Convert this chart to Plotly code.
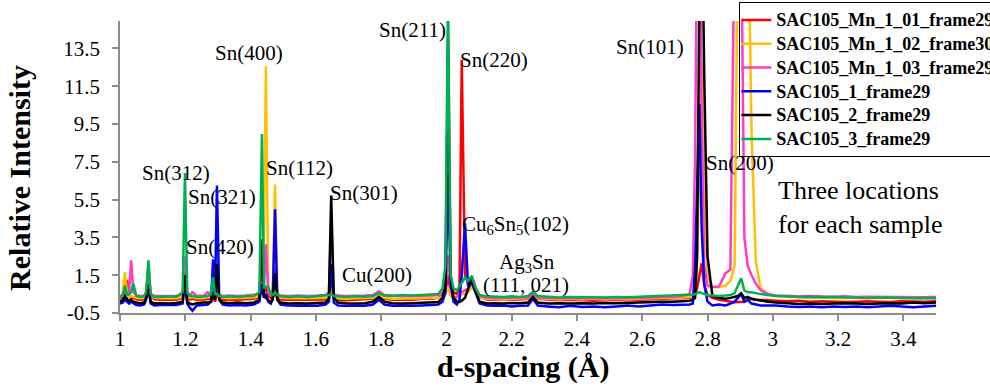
import plotly.graph_objects as go

# d-spacing grid (Å) shared by all scans
D = [1.000, 1.008, 1.015, 1.022, 1.028, 1.034, 1.041, 1.050, 1.062, 1.074, 1.080, 1.087, 1.094, 1.105,
     1.125, 1.150, 1.172, 1.192, 1.199, 1.206, 1.213, 1.222, 1.235, 1.255, 1.269, 1.279, 1.285, 1.291, 1.297, 1.304, 1.315, 1.335, 1.360, 1.385, 1.410, 1.427,
     1.435, 1.441, 1.447, 1.454, 1.462, 1.468, 1.475, 1.482, 1.492, 1.515, 1.545, 1.575, 1.605, 1.630, 1.640, 1.647, 1.655, 1.668, 1.690, 1.720, 1.750, 1.775, 1.793, 1.810, 1.835, 1.865, 1.895, 1.925, 1.955, 1.975, 1.988,
     1.997, 2.005, 2.013, 2.022, 2.032, 2.040, 2.047, 2.057, 2.066, 2.078, 2.090, 2.102, 2.125, 2.150, 2.175, 2.200, 2.225, 2.250, 2.265, 2.280, 2.310, 2.345, 2.380, 2.415, 2.450, 2.485, 2.520, 2.555, 2.590, 2.625, 2.660, 2.695, 2.725, 2.745,
     2.755, 2.762, 2.768, 2.775, 2.782, 2.790, 2.800, 2.815, 2.835, 2.855, 2.870, 2.883, 2.893, 2.903, 2.913, 2.923, 2.935, 2.948, 2.963, 2.985, 3.010, 3.045, 3.080, 3.115, 3.150, 3.185, 3.220, 3.255, 3.290, 3.325, 3.360, 3.395, 3.430, 3.465, 3.500]

MN_01 = [0.25, 0.3, 0.6, 1.25, 0.35, 0.3, 0.3, 0.22, 0.2, 0.22, 0.5, 2.0, 0.4, 0.22,
         0.2, 0.22, 0.2, 0.3, 1.8, 0.35, 0.22, 0.25, 0.2, 0.22, 0.25, 0.25, 0.4, 0.1, 0.5, 0.3, 0.2, 0.22, 0.2, 0.22, 0.25, 0.35,
         1.0, 0.6, 0.8, 0.4, 0.3, 0.3, 0.6, 0.3, 0.22, 0.2, 0.22, 0.2, 0.2, 0.22, 0.3, 1.0, 0.3, 0.2, 0.18, 0.2, 0.2, 0.25, 0.5, 0.25, 0.2, 0.22, 0.2, 0.25, 0.25, 0.3, 0.4,
         0.6, 1.5, 0.6, 0.6, 0.5, 0.8, 12.88, 1.5, 1.1, 1.45, 0.8, 0.35, 0.22, 0.2, 0.2, 0.2, 0.22, 0.25, 0.45, 0.25, 0.2, 0.18, 0.2, 0.18, 0.15, 0.18, 0.2, 0.18, 0.2, 0.22, 0.25, 0.25, 0.28, 0.3,
         0.35, 0.5, 0.8, 1.5, 2.13, 1.0, 0.45, 0.3, 0.2, 0.15, 0.1, 0.07, 0.08, 0.1, 0.1, 0.2, 0.25, 0.2, 0.2, 0.18, 0.15, 0.12, 0.15, 0.1, 0.12, 0.1, 0.08, 0.1, 0.12, 0.1, 0.08, 0.12, 0.1, 0.1, 0.12]

MN_02 = [0.3, 0.5, 1.67, 0.5, 0.35, 0.4, 0.35, 0.3, 0.28, 0.3, 0.5, 1.3, 0.4, 0.3,
         0.28, 0.3, 0.28, 0.35, 2.0, 0.4, 0.3, 0.35, 0.28, 0.3, 0.35, 0.35, 0.6, 0.35, 0.6, 0.35, 0.3, 0.28, 0.3, 0.3, 0.32, 0.4,
         1.2, 3.0, 12.56, 0.8, 0.4, 0.8, 6.3, 0.5, 0.3, 0.28, 0.3, 0.28, 0.28, 0.3, 0.3, 0.8, 0.3, 0.28, 0.25, 0.28, 0.28, 0.3, 0.45, 0.3, 0.25, 0.25, 0.28, 0.28, 0.3, 0.3, 0.35,
         0.45, 0.86, 0.4, 0.25, 0.3, 0.4, 0.5, 0.5, 0.6, 0.85, 0.6, 0.35, 0.25, 0.22, 0.22, 0.25, 0.25, 0.28, 0.45, 0.28, 0.25, 0.22, 0.25, 0.22, 0.25, 0.22, 0.25, 0.22, 0.25, 0.28, 0.3, 0.3, 0.32, 0.35,
         0.4, 0.8, 2.0, 8.0, 12.78, 6.0, 1.5, 0.9, 0.86, 0.95, 1.2, 2.0, 20.0, 25.0, 25.0, 22.0, 9.0, 2.2, 0.8, 0.5, 0.4, 0.35, 0.35, 0.3, 0.32, 0.3, 0.3, 0.28, 0.3, 0.28, 0.3, 0.28, 0.28, 0.3, 0.3]

MN_03 = [0.4, 0.45, 0.6, 0.5, 0.6, 2.29, 0.6, 0.42, 0.4, 0.42, 0.6, 1.4, 0.5, 0.4,
         0.4, 0.42, 0.4, 0.5, 2.5, 0.5, 0.45, 0.6, 0.42, 0.4, 0.6, 0.45, 0.7, 0.45, 0.8, 0.45, 0.4, 0.42, 0.4, 0.42, 0.45, 0.5,
         2.0, 0.8, 3.13, 0.6, 0.45, 0.5, 1.87, 0.5, 0.42, 0.4, 0.42, 0.4, 0.42, 0.45, 0.6, 4.5, 0.5, 0.42, 0.4, 0.4, 0.42, 0.45, 0.65, 0.45, 0.4, 0.38, 0.4, 0.4, 0.42, 0.45, 0.55,
         0.7, 2.55, 0.8, 0.3, 0.35, 0.5, 0.6, 0.7, 0.8, 1.05, 0.7, 0.4, 0.3, 0.28, 0.3, 0.3, 0.3, 0.32, 0.5, 0.32, 0.3, 0.28, 0.3, 0.28, 0.28, 0.3, 0.28, 0.3, 0.3, 0.32, 0.35, 0.35, 0.4, 0.5,
         1.5, 8.0, 20.0, 22.0, 10.0, 2.0, 0.95, 0.86, 0.9, 1.6, 1.8, 20.0, 25.0, 20.0, 3.5, 2.0, 1.5, 1.05, 0.7, 0.5, 0.42, 0.4, 0.38, 0.4, 0.38, 0.36, 0.38, 0.35, 0.36, 0.35, 0.36, 0.34, 0.35, 0.33, 0.35]

S1 = [0.0, 0.05, 0.2, 0.1, 0.0, 0.1, 0.0, -0.08, -0.1, -0.05, 0.2, 0.8, 0.0, -0.1,
      -0.08, -0.1, -0.08, 0.0, 1.2, 0.0, -0.2, -0.38, -0.1, -0.08, -0.05, 0.1, 2.34, 0.3, 6.25, 0.2, -0.05, -0.1, -0.08, -0.1, -0.05, 0.1,
      1.0, 0.3, 0.5, 0.1, 0.0, 0.3, 4.99, 0.2, -0.05, -0.1, -0.12, -0.1, -0.12, -0.05, 0.1, 2.1, 0.05, -0.1, -0.12, -0.1, -0.12, -0.05, 0.2, -0.05, -0.12, -0.1, -0.12, -0.1, -0.08, -0.05, 0.1,
      0.6, 6.95, 1.0, 0.1, -0.05, 0.2, 1.5, 4.25, 1.0, 1.1, 0.5, 0.0, -0.1, -0.12, -0.1, -0.15, -0.12, -0.1, 0.25, -0.1, -0.15, -0.2, -0.12, -0.18, -0.15, -0.2, -0.15, -0.1, -0.15, -0.1, -0.05, -0.08, -0.05, -0.05,
      0.0, 2.0, 6.0, 10.55, 4.0, 1.0, 0.1, -0.1, -0.05, -0.1, 0.0, 0.1, 0.3, 0.5, 0.1, 0.2, 0.0, -0.05, -0.1, -0.1, -0.1, -0.15, -0.18, -0.15, -0.2, -0.15, -0.18, -0.15, -0.2, -0.15, -0.12, -0.15, -0.2, -0.15, -0.12]

S2 = [0.1, 0.15, 0.4, 0.2, 0.1, 0.2, 0.1, 0.05, 0.02, 0.05, 0.3, 1.0, 0.1, 0.0,
      0.02, 0.0, 0.03, 0.1, 1.5, 0.1, 0.0, -0.05, 0.02, 0.05, 0.05, 0.1, 0.6, 0.2, 2.1, 0.2, 0.05, 0.02, 0.05, 0.02, 0.05, 0.2,
      3.4, 0.4, 0.3, 0.15, 0.05, 0.2, 1.6, 0.2, 0.05, 0.0, 0.02, 0.0, 0.02, 0.05, 0.3, 5.72, 0.3, 0.05, 0.02, 0.0, 0.02, 0.1, 0.35, 0.1, 0.02, 0.0, 0.02, 0.05, 0.05, 0.08, 0.3,
      1.0, 14.0, 1.5, 0.3, 0.1, 0.08, 0.15, 0.3, 0.8, 1.34, 0.6, 0.1, 0.0, 0.02, 0.0, 0.03, 0.02, 0.05, 0.35, 0.05, 0.0, 0.02, 0.0, 0.02, 0.0, 0.03, 0.02, 0.05, 0.05, 0.08, 0.1, 0.1, 0.12, 0.15,
      0.2, 0.3, 2.5, 16.0, 22.0, 12.0, 2.5, 0.4, 0.3, 0.25, 0.3, 0.35, 0.4, 0.54, 0.3, 0.35, 0.25, 0.2, 0.15, 0.1, 0.05, 0.0, -0.02, 0.0, -0.03, 0.0, 0.02, 0.0, -0.02, 0.0, 0.02, 0.0, 0.05, 0.02, 0.05]

S3 = [0.35, 0.4, 0.95, 0.45, 0.5, 0.6, 1.05, 0.4, 0.35, 0.38, 0.6, 2.29, 0.5, 0.35,
      0.35, 0.38, 0.35, 0.6, 6.9, 0.6, 0.4, 0.4, 0.35, 0.38, 0.4, 0.5, 1.4, 0.5, 0.5, 0.4, 0.35, 0.38, 0.35, 0.38, 0.4, 0.6,
      8.97, 0.8, 0.9, 0.88, 0.5, 0.45, 0.6, 0.45, 0.38, 0.35, 0.38, 0.35, 0.38, 0.4, 0.45, 0.5, 0.4, 0.38, 0.35, 0.38, 0.36, 0.4, 0.55, 0.42, 0.4, 0.45, 0.42, 0.45, 0.48, 0.5, 0.8,
      2.0, 16.5, 1.5, 0.8, 0.7, 0.9, 1.1, 1.38, 1.2, 1.45, 0.8, 0.45, 0.38, 0.35, 0.35, 0.38, 0.35, 0.4, 0.62, 0.4, 0.35, 0.32, 0.35, 0.32, 0.33, 0.32, 0.35, 0.33, 0.35, 0.38, 0.4, 0.42, 0.45, 0.45,
      0.48, 0.5, 0.55, 0.6, 0.55, 0.5, 0.45, 0.42, 0.4, 0.42, 0.45, 0.55, 1.0, 1.34, 0.7, 0.6, 0.6, 0.55, 0.5, 0.45, 0.4, 0.38, 0.35, 0.36, 0.33, 0.35, 0.32, 0.33, 0.3, 0.32, 0.3, 0.3, 0.28, 0.3, 0.28]

SERIES_NAMES = ["SAC105_Mn_1_01_frame29", "SAC105_Mn_1_02_frame30", "SAC105_Mn_1_03_frame29",
                "SAC105_1_frame29", "SAC105_2_frame29", "SAC105_3_frame29"]
SERIES_VALUES = [MN_01, MN_02, MN_03, S1, S2, S3]
SERIES_COLORS = ["#FF0000", "#FFC000", "#FF3CC8", "#0000FF", "#000000", "#00B050"]

X_TICKS = [1.0, 1.2, 1.4, 1.6, 1.8, 2.0, 2.2, 2.4, 2.6, 2.8, 3.0, 3.2, 3.4]
X_TICK_TEXT = ["1", "1.2", "1.4", "1.6", "1.8", "2", "2.2", "2.4", "2.6", "2.8", "3", "3.2", "3.4"]
Y_TICKS = [-0.5, 1.5, 3.5, 5.5, 7.5, 9.5, 11.5, 13.5]
Y_TICK_TEXT = ["-0.5", "1.5", "3.5", "5.5", "7.5", "9.5", "11.5", "13.5"]

# peak labels: (text, d, intensity)
PEAK_LABELS = [
    ("Sn(312)", 1.173, 6.9), ("Sn(321)", 1.312, 5.63), ("Sn(420)", 1.305, 2.98),
    ("Sn(400)", 1.395, 13.26), ("Sn(112)", 1.551, 7.16), ("Sn(301)", 1.747, 5.84),
    ("Cu(200)", 1.787, 1.50), ("Sn(211)", 1.896, 14.47), ("Sn(220)", 2.147, 12.88),
    ("Cu<sub>6</sub>Sn<sub>5</sub>(102)", 2.213, 4.14), ("Ag<sub>3</sub>Sn", 2.247, 2.13),
    ("(111, 021)", 2.245, 0.97), ("Sn(101)", 2.625, 13.57), ("Sn(200)", 2.900, 7.43),
]
NOTE = ("Three locations<br>for each sample", 3.270, 5.1)

FONT = "Liberation Serif"

fig = go.Figure()
for name, vals, col in zip(SERIES_NAMES, SERIES_VALUES, SERIES_COLORS):
    fig.add_trace(go.Scatter(
        x=D, y=vals, mode="lines", name='<span style="font-size:18px">' + name + '</span>',
        line=dict(color=col, width=2.5),
    ))

for txt, xv, yv in PEAK_LABELS:
    fig.add_annotation(x=xv, y=yv, text=txt, showarrow=False, xref="x", yref="y",
                       font=dict(family=FONT, size=21, color="black"),
                       xanchor="center", yanchor="middle")
fig.add_annotation(x=NOTE[1], y=NOTE[2], text=NOTE[0], showarrow=False, xref="x", yref="y",
                   font=dict(family=FONT, size=26, color="black"), align="left",
                   xanchor="center", yanchor="middle")

# axis titles
fig.add_annotation(x=-0.124, y=0.462, xref="paper", yref="paper", text="<b>Relative Intensity</b>",
                   textangle=-90, showarrow=False, font=dict(family=FONT, size=30, color="black"),
                   xanchor="center", yanchor="middle")
fig.add_annotation(x=0.495, y=-0.186, xref="paper", yref="paper", text="<b>d-spacing (Å)</b>",
                   showarrow=False, font=dict(family=FONT, size=30, color="black"),
                   xanchor="center", yanchor="middle")

axis_gray = "#8C8C8C"
fig.update_layout(
    width=990, height=390,
    margin=dict(l=120, r=54, t=21, b=77, autoexpand=False),
    paper_bgcolor="white", plot_bgcolor="white",
    font=dict(family=FONT, color="black"),
    showlegend=True,
    legend=dict(x=0.759, y=1.065, xanchor="left", yanchor="top",
                bgcolor="rgba(255,255,255,0)", bordercolor="#000000", borderwidth=1,
                font=dict(family=FONT, size=16, color="black", weight="bold"),
                itemwidth=30, tracegroupgap=0, indentation=-4),
    xaxis=dict(range=[1, 3.5], tickvals=X_TICKS, ticktext=X_TICK_TEXT,
               showline=True, linecolor=axis_gray, linewidth=1.5,
               ticks="outside", ticklen=6, tickcolor=axis_gray, tickwidth=1.5,
               showgrid=False, zeroline=False,
               tickfont=dict(family=FONT, size=21, color="black")),
    yaxis=dict(range=[-0.5, 14.95], tickvals=Y_TICKS, ticktext=Y_TICK_TEXT,
               showline=True, linecolor=axis_gray, linewidth=1.5,
               ticks="outside", ticklen=6, tickcolor=axis_gray, tickwidth=1.5,
               ticklabelstandoff=8,
               showgrid=False, zeroline=False,
               tickfont=dict(family=FONT, size=21, color="black")),
)

fig.write_html("out.html", config={"displayModeBar": False},
               post_script="document.body.style.margin='0';")
